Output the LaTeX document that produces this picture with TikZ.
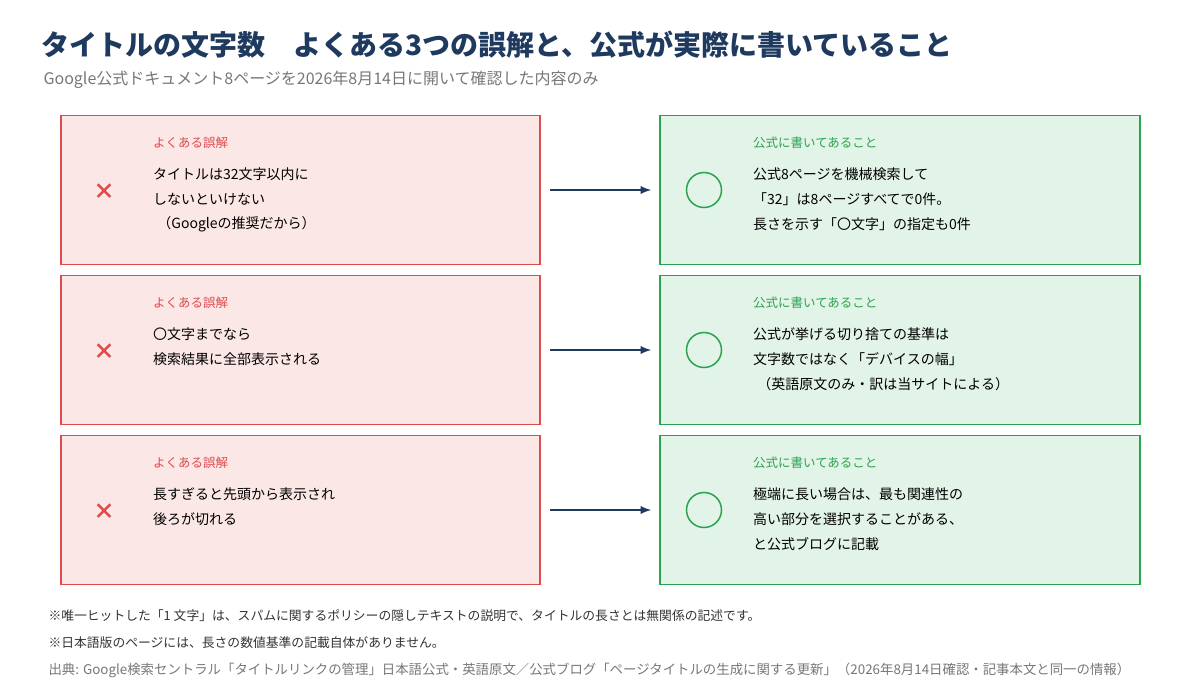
\documentclass[tikz,border=0pt]{standalone}
\usepackage{fontspec}
\setmainfont{Noto Sans CJK JP}
\usetikzlibrary{positioning}
\definecolor{navy}{HTML}{1F3A5F}
\definecolor{ngred}{HTML}{DD4B4B}
\definecolor{ngfill}{HTML}{FCE7E7}
\definecolor{okgreen}{HTML}{2AA350}
\definecolor{okfill}{HTML}{E2F3E7}
\definecolor{note}{HTML}{333333}
\definecolor{src}{HTML}{777777}
\begin{document}
\begin{tikzpicture}[x=1pt, y=-1pt,
  ng/.style={draw=ngred, fill=ngfill, line width=1.5pt, minimum width=479pt, minimum height=149pt, inner sep=0pt},
  ok/.style={draw=okgreen, fill=okfill, line width=1.5pt, minimum width=480pt, minimum height=149pt, inner sep=0pt},
  head/.style={anchor=west, inner sep=0pt, font=\fontsize{12.5}{14}\selectfont},
  body/.style={anchor=west, inner sep=0pt, font=\fontsize{14}{16}\selectfont, text=black},
  n/.style={-latex, line width=2.6pt, draw=navy}]
\useasboundingbox (0,0) rectangle (1200,700);
% title
\node[anchor=west, text=navy, font=\fontsize{28}{30}\selectfont\bfseries] (title) at (38,45) {タイトルの文字数\quad よくある3つの誤解と、公式が実際に書いていること};
\node[anchor=west, text=src, font=\fontsize{16}{18}\selectfont] (sub) at (40,80) {Google公式ドキュメント8ページを2026年8月14日に開いて確認した内容のみ};
% rows
\foreach \i/\y/\na/\nb/\nc/\oa/\ob/\oc in {
  1/190/タイトルは32文字以内に/しないといけない/{\hspace{0.3em}（Googleの推奨だから）}/公式8ページを機械検索して/「32」は8ページすべてで0件。/長さを示す「〇文字」の指定も0件,
  2/350/〇文字までなら/検索結果に全部表示される/{}/公式が挙げる切り捨ての基準は/文字数ではなく「デバイスの幅」/{\hspace{0.3em}（英語原文のみ・訳は当サイトによる）},
  3/510/長すぎると先頭から表示され/後ろが切れる/{}/極端に長い場合は、最も関連性の/高い部分を選択することがある、/と公式ブログに記載} {
  \node[ng] (ng\i) at (300.5,\y) {};
  \node[ok] (ok\i) at (900,\y) {};
  \node[head, text=ngred] (ngh\i) at (153,\y-47) {よくある誤解};
  \node[body] (nga\i) at (153,\y-16) {\na};
  \node[body] (ngb\i) at (153,\y+9) {\nb};
  \node[body] (ngc\i) at (153,\y+34) {\nc};
  \node[head, text=okgreen] (okh\i) at (753,\y-47) {公式に書いてあること};
  \node[body] (oka\i) at (753,\y-16) {\oa};
  \node[body] (okb\i) at (753,\y+9) {\ob};
  \node[body] (okc\i) at (753,\y+34) {\oc};
  \node[text=ngred, font=\fontsize{22}{22}\selectfont\bfseries] (x\i) at (104,\y+2) {×};
  \node[draw=okgreen, line width=1.5pt, circle, minimum size=35pt, inner sep=0pt] (c\i) at (704,\y) {};
  \coordinate (a\i) at ([xshift=9pt]ng\i.east);
  \coordinate (b\i) at ([xshift=-8pt]ok\i.west);
  \draw[n] (a\i) -- (b\i);
}
% notes
\node[anchor=west, text=note, font=\fontsize{12.8}{14}\selectfont] (note1) at (45,616) {※唯一ヒットした「1 文字」は、スパムに関するポリシーの隠しテキストの説明で、タイトルの長さとは無関係の記述です。};
\node[anchor=west, text=note, font=\fontsize{12.8}{14}\selectfont] (note2) at (45,643) {※日本語版のページには、長さの数値基準の記載自体がありません。};
\node[anchor=west, text=src, font=\fontsize{13.4}{14}\selectfont] (source) at (45,670) {出典: Google検索セントラル「タイトルリンクの管理」日本語公式・英語原文／公式ブログ「ページタイトルの生成に関する更新」（2026年8月14日確認・記事本文と同一の情報）};
\end{tikzpicture}
\end{document}
